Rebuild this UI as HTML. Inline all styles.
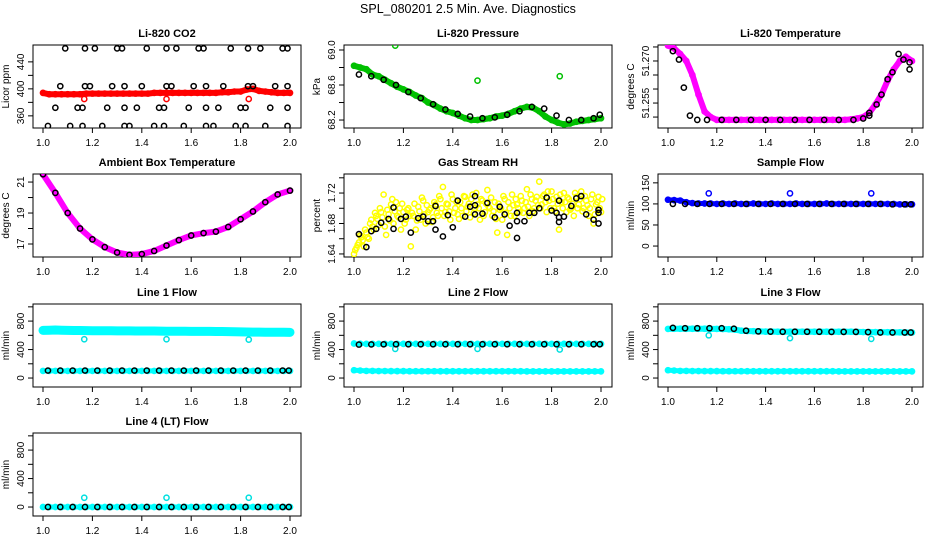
<!DOCTYPE html>
<html><head><meta charset="utf-8"><style>
html,body{margin:0;padding:0;background:#fff;}
svg{display:block;font-family:"Liberation Sans",Arial,sans-serif;}
</style></head><body>
<svg id="chart" width="936" height="540" viewBox="0 0 936 540">
<text x="468" y="13" text-anchor="middle" font-size="12.5">SPL_080201  2.5 Min. Ave. Diagnostics</text>
</svg>
<script>
// ---- shared time axes ----
const t41 = [1.0,1.025,1.05,1.075,1.1,1.125,1.15,1.175,1.2,1.225,1.25,1.275,1.3,1.325,1.35,1.375,1.4,1.425,1.45,1.475,1.5,1.525,1.55,1.575,1.6,1.625,1.65,1.675,1.7,1.725,1.75,1.775,1.8,1.825,1.85,1.875,1.9,1.925,1.95,1.975,2.0];
const t21 = [1.0,1.05,1.1,1.15,1.2,1.25,1.3,1.35,1.4,1.45,1.5,1.55,1.6,1.65,1.7,1.75,1.8,1.85,1.9,1.95,2.0];
const tBlack = [1.02,1.07,1.12,1.17,1.22,1.27,1.32,1.37,1.42,1.47,1.52,1.57,1.62,1.67,1.72,1.77,1.82,1.87,1.92,1.97,1.995];
const tOut = [1.167,1.5,1.833];
const xTicks = [1.0,1.2,1.4,1.6,1.8,2.0];
const xTickLabels = ["1.0","1.2","1.4","1.6","1.8","2.0"];

// ---- CO2 ----
const co2Red = [394,392,392,392,392,392,392,393,393,393,393,393,393,393,393,393,393,393,394,394,394,394,394,394,394,394,394,394,394,395,395,396,396,399,400,397,396,395,394,394,394];
const co2RedOut = [385,385,385];
const co2T460 = [1.09,1.17,1.21,1.30,1.32,1.42,1.50,1.54,1.63,1.65,1.76,1.83,1.88,1.97,1.99];
const co2T404 = [1.07,1.17,1.19,1.28,1.33,1.40,1.50,1.52,1.61,1.66,1.73,1.83,1.85,1.94,1.99];
const co2T372 = [1.05,1.14,1.16,1.26,1.33,1.38,1.47,1.49,1.59,1.66,1.71,1.80,1.82,1.92,1.99];
const co2T345 = [1.02,1.11,1.16,1.24,1.33,1.35,1.45,1.49,1.57,1.66,1.69,1.78,1.82,1.90,1.99];
const co2Levels = [460,404,372,345];

// ---- Pressure ----
const presGreen = [68.82,68.80,68.78,68.72,68.70,68.66,68.62,68.58,68.55,68.52,68.48,68.45,68.40,68.37,68.33,68.30,68.28,68.25,68.22,68.20,68.20,68.21,68.22,68.24,68.25,68.27,68.30,68.33,68.35,68.34,68.30,68.24,68.20,68.17,68.15,68.16,68.18,68.19,68.20,68.21,68.22];
const presGreenOut = [69.05,68.65,68.70];
const presBlack = [68.72,68.70,68.66,68.60,68.52,68.45,68.38,68.32,68.27,68.24,68.22,68.23,68.26,68.30,68.35,68.33,68.25,68.20,68.20,68.22,68.26];

// ---- Li-820 temperature ----
const tempMag = [51.2755,51.2745,51.2725,51.2700,51.2650,51.2580,51.2520,51.2500,51.2490,51.2490,51.2490,51.2490,51.2490,51.2490,51.2490,51.2490,51.2490,51.2490,51.2490,51.2490,51.2490,51.2490,51.2490,51.2490,51.2490,51.2490,51.2490,51.2490,51.2490,51.2490,51.2492,51.2495,51.2500,51.2515,51.2545,51.2580,51.2630,51.2670,51.2700,51.2715,51.2700];
const tempBlackT = [1.02,1.045,1.065,1.09,1.12,1.16,1.22,1.28,1.34,1.40,1.46,1.52,1.58,1.64,1.70,1.76,1.80,1.825,1.825,1.855,1.875,1.90,1.92,1.945,1.965,1.99,1.99];
const tempBlack = [51.2735,51.2705,51.2605,51.2505,51.2490,51.2490,51.2490,51.2490,51.2490,51.2490,51.2490,51.2490,51.2490,51.2490,51.2490,51.2490,51.2495,51.2515,51.2505,51.2545,51.2580,51.2635,51.2660,51.2725,51.2705,51.2695,51.2670];

// ---- Ambient box temperature ----
const ambient = [21.5,20.3,19.0,18.0,17.3,16.8,16.45,16.3,16.35,16.55,16.9,17.25,17.55,17.7,17.8,18.1,18.6,19.1,19.7,20.2,20.45];

// ---- Gas stream RH ----
const rhYT = [1.00,1.01,1.02,1.03,1.04,1.05,1.06,1.07,1.08,1.09,1.10,1.11,1.12,1.13,1.14,1.15,1.16,1.17,1.18,1.19,1.20,1.21,1.22,1.23,1.24,1.25,1.26,1.27,1.28,1.29,1.30,1.31,1.32,1.33,1.34,1.35,1.36,1.37,1.38,1.39,1.40,1.41,1.42,1.43,1.44,1.45,1.46,1.47,1.48,1.49,1.50,1.51,1.52,1.53,1.54,1.55,1.56,1.57,1.58,1.59,1.60,1.61,1.62,1.63,1.64,1.65,1.66,1.67,1.68,1.69,1.70,1.71,1.72,1.73,1.74,1.75,1.76,1.77,1.78,1.79,1.80,1.81,1.82,1.83,1.84,1.85,1.86,1.87,1.88,1.89,1.90,1.91,1.92,1.93,1.94,1.95,1.96,1.97,1.98,1.99,2.00];
const rhYellow = [1.640,1.648,1.655,1.662,1.650,1.668,1.660,1.685,1.672,1.690,1.678,1.695,1.718,1.665,1.692,1.705,1.680,1.708,1.688,1.672,1.695,1.685,1.700,1.650,1.690,1.672,1.702,1.685,1.710,1.680,1.695,1.700,1.688,1.705,1.690,1.712,1.728,1.695,1.705,1.685,1.712,1.700,1.692,1.708,1.690,1.715,1.702,1.688,1.718,1.700,1.705,1.685,1.710,1.695,1.724,1.700,1.690,1.708,1.668,1.698,1.685,1.712,1.665,1.700,1.718,1.690,1.705,1.695,1.710,1.700,1.725,1.690,1.712,1.700,1.715,1.735,1.705,1.718,1.695,1.710,1.722,1.700,1.715,1.672,1.708,1.720,1.695,1.712,1.700,1.690,1.715,1.705,1.722,1.700,1.710,1.690,1.712,1.680,1.705,1.715,1.695];
const rhYellow2 = [1.645,1.652,1.664,1.658,1.672,1.662,1.680,1.676,1.694,1.686,1.700,1.688,1.676,1.698,1.684,1.712,1.696,1.690,1.700,1.706,1.680,1.698,1.690,1.694,1.706,1.684,1.696,1.714,1.692,1.704,1.698,1.682,1.708,1.694,1.716,1.700,1.690,1.706,1.696,1.718,1.694,1.708,1.686,1.700,1.716,1.696,1.706,1.712,1.694,1.720,1.700,1.712,1.690,1.706,1.702,1.714,1.696,1.686,1.706,1.700,1.716,1.694,1.708,1.690,1.704,1.712,1.700,1.716,1.694,1.708,1.702,1.718,1.696,1.710,1.704,1.700,1.716,1.708,1.722,1.700,1.712,1.696,1.706,1.718,1.700,1.708,1.714,1.698,1.706,1.720,1.700,1.712,1.696,1.716,1.704,1.700,1.718,1.692,1.708,1.700,1.712];
const rhBlackT = [1.02,1.05,1.07,1.09,1.11,1.14,1.16,1.16,1.19,1.21,1.23,1.26,1.28,1.30,1.32,1.33,1.33,1.36,1.38,1.40,1.42,1.45,1.47,1.49,1.49,1.49,1.52,1.54,1.57,1.59,1.61,1.63,1.66,1.66,1.66,1.69,1.71,1.73,1.75,1.78,1.80,1.82,1.83,1.83,1.83,1.85,1.88,1.90,1.92,1.94,1.97,1.99,1.99,1.99];
const rhBlack = [1.666,1.649,1.670,1.673,1.681,1.686,1.701,1.673,1.686,1.689,1.668,1.687,1.689,1.683,1.683,1.672,1.703,1.663,1.691,1.675,1.710,1.689,1.702,1.692,1.704,1.716,1.693,1.707,1.688,1.702,1.692,1.677,1.683,1.661,1.694,1.683,1.694,1.694,1.700,1.714,1.697,1.694,1.688,1.710,1.682,1.689,1.703,1.713,1.716,1.692,1.685,1.698,1.680,1.694];

// ---- Sample flow ----
const flowBlue = [110,109,108,104,102,101,101,101,100,101,100,101,100,100,101,100,100,101,100,100,100,101,100,100,100,100,101,100,100,100,100,100,100,100,100,100,100,100,99,99,99];
const flowBlueOut = [125,125,125];
const flowBlack = [100,100,100,100,100,100,100,100,100,100,100,100,100,100,100,100,100,100,99,99,99];

// ---- Line flows ----
const l1Cyan = [670,672,675,672,670,668,668,666,665,665,664,664,663,662,662,661,660,660,660,659,658,658,657,657,656,656,655,655,654,653,652,650,648,646,645,645,644,644,643,643,642];
const l1CyanLow = [100,100,100,100,100,100,100,100,100,100,100,100,100,100,100,100,100,100,100,100,100,100,100,100,100,100,100,100,100,100,100,100,100,100,100,100,100,100,100,100,100];
const l1Out = [545,545,540];
const l1Black = [105,105,105,105,105,105,105,105,105,105,105,105,105,105,105,105,105,105,105,105,105];

const l2CyanLow = [110,105,100,100,98,98,97,97,97,96,96,96,96,96,95,95,95,95,95,95,95,95,95,95,95,95,95,95,94,94,94,94,94,94,94,94,94,94,94,94,94];
const l2CyanHigh = [485,482,480,480,480,480,480,480,480,480,480,480,480,480,480,480,480,480,480,480,480,480,480,480,480,480,480,480,480,480,480,480,480,480,480,480,480,480,480,480,480];
const l2Out = [410,410,400];
const l2Black = [470,472,474,475,475,475,475,475,475,475,475,475,475,475,475,475,475,475,475,475,475];

const l3CyanHigh = [690,692,692,692,692,692,692,690,690,688,685,680,665,660,658,655,652,652,650,650,650,650,650,650,650,650,650,650,650,650,650,648,646,645,645,644,643,642,642,640,640];
const l3CyanLow = [110,105,100,100,98,98,97,97,97,96,96,96,96,96,95,95,95,95,95,95,95,95,95,95,95,95,95,95,94,94,94,94,94,94,94,94,94,94,94,94,94];
const l3Out = [600,560,550];
const l3Black = [705,700,700,700,700,692,665,655,652,650,650,650,650,648,648,648,645,640,640,640,640];

const l4Cyan = [0,0,0,0,0,0,0,0,0,0,0,0,0,0,0,0,0,0,0,0,0,0,0,0,0,0,0,0,0,0,0,0,0,0,0,0,0,0,0,0,0];
const l4Out = [130,130,130];
const l4Black = [0,0,0,0,0,0,0,0,0,0,0,0,0,0,0,0,0,0,0,0,0];

// ---- tick arrays ----
const co2Ticks=[360,380,400,420,440], co2Labels=["360","","400","","440"];
const presTicks=[68.2,68.4,68.6,68.8,69.0], presLabels=["68.2","","68.6","","69.0"];
const tempTicks=[51.250,51.255,51.260,51.265,51.270,51.275], tempLabels=["","51.255","","","51.270",""];
const ambTicks=[17,18,19,20,21], ambLabels=["17","","19","","21"];
const rhTicks=[1.64,1.66,1.68,1.70,1.72,1.74], rhLabels=["1.64","","1.68","","1.72",""];
const sfTicks=[0,50,100,150], sfLabels=["0","50","100","150"];
const lfTicks=[0,200,400,600,800,1000], lfLabels=["0","","400","","800",""];

const NS="http://www.w3.org/2000/svg";
const svg=document.getElementById('chart');
function mk(tag,attrs,parent){const e=document.createElementNS(NS,tag);for(const k in attrs)e.setAttribute(k,attrs[k]);(parent||svg).appendChild(e);return e;}

const colL=[33,344,658], colR=[301,612,923];
const rowT=[45,174,304,433], PH=83;

function makePanel(col,row,title,ylab,ymin,ymax,ticks,labels,slug){
  const L=colL[col],R=colR[col],T=rowT[row],B=T+PH;
  const x0=L+10,x1=R-11;
  const g=mk('g',{});
  
  
  const sx=v=>x0+(v-1)*(x1-x0);
  const sy=v=>B-(v-ymin)/(ymax-ymin)*PH;
  const tt=mk('text',{x:(L+R)/2,y:T-8,'text-anchor':'middle','font-size':'11','font-weight':'bold'},g);
  tt.textContent=title;
  
  
  const box=mk('rect',{x:L,y:T,width:R-L,height:PH,fill:'none',stroke:'#000','stroke-width':1},g);
  
  
  const ya=mk('g',{},g);
  
  
  ticks.forEach((v,i)=>{
    const y=sy(v);
    mk('line',{x1:L-5,x2:L,y1:y,y2:y,stroke:'#000'},ya);
    if(labels[i]){const t=mk('text',{x:L-9,y:y,'font-size':'10','text-anchor':'middle',transform:`rotate(-90 ${L-9} ${y})`},ya);t.textContent=labels[i];}
  });
  const yl=mk('text',{x:L-24,y:(T+B)/2,'font-size':'10','text-anchor':'middle',transform:`rotate(-90 ${L-24} ${(T+B)/2})`},g);
  yl.textContent=ylab;
  
  
  const xa=mk('g',{},g);
  
  
  mk('line',{x1:sx(xTicks[0]),x2:sx(xTicks[xTicks.length-1]),y1:B,y2:B,stroke:'#000'},xa);
  xTicks.forEach((v,i)=>{
    const x=sx(v);
    mk('line',{x1:x,x2:x,y1:B,y2:B+5,stroke:'#000'},xa);
    const t=mk('text',{x:x,y:B+18,'font-size':'10','text-anchor':'middle'},xa);t.textContent=xTickLabels[i];
  });
  const clip='clip'+slug;
  const cp=mk('clipPath',{id:clip},g);mk('rect',{x:L,y:T,width:R-L,height:PH},cp);
  const marks=mk('g',{'clip-path':`url(#${clip})`},g);
  return {sx,sy,marks};
}
function pts(p,ts,vs,color,name,band){
  const g=mk('g',{},p.marks);
  
  
  if(band){
    mk('polyline',{points:ts.map((t,i)=>p.sx(t)+','+p.sy(vs[i])).join(' '),fill:'none',stroke:color,'stroke-width':band,'stroke-linejoin':'round','stroke-linecap':'round'},g);
  }
  ts.forEach((t,i)=>{mk('circle',{cx:p.sx(t),cy:p.sy(vs[i]),r:2.6,fill:'none',stroke:color,'stroke-width':1.5},g);});
}

// Panel 1 CO2
let p=makePanel(0,0,'Li-820 CO2','Licor ppm',342,465,co2Ticks,co2Labels,'co2');
pts(p,t41,co2Red,'#ff0000','co2-red-series',6);
pts(p,tOut,co2RedOut,'#ff0000','co2-red-outliers');
pts(p,co2T460,co2T460.map(()=>co2Levels[0]),'#000','co2-black-460');
pts(p,co2T404,co2T404.map(()=>co2Levels[1]),'#000','co2-black-404');
pts(p,co2T372,co2T372.map(()=>co2Levels[2]),'#000','co2-black-372');
pts(p,co2T345,co2T345.map(()=>co2Levels[3]),'#000','co2-black-345');

// Panel 2 Pressure
p=makePanel(1,0,'Li-820 Pressure','kPa',68.109,69.057,presTicks,presLabels,'pressure');
pts(p,t41,presGreen,'#00c000','pressure-green-series',6);
pts(p,tOut,presGreenOut,'#00c000','pressure-green-outliers');
pts(p,tBlack,presBlack,'#000','pressure-black-series');

// Panel 3 Temperature
p=makePanel(2,0,'Li-820 Temperature','degrees C',51.2461,51.2757,tempTicks,tempLabels,'li820-temp');
pts(p,t41,tempMag,'#ff00ff','li820-temp-magenta-series',6);
pts(p,tempBlackT,tempBlack,'#000','li820-temp-black-series');

// Panel 4 Ambient
p=makePanel(0,1,'Ambient Box Temperature','degrees C',16.16,21.52,ambTicks,ambLabels,'ambient-temp');
pts(p,t21,ambient,'#ff00ff','ambient-magenta-series',6);
pts(p,t21,ambient,'#000','ambient-black-series');

// Panel 5 RH
p=makePanel(1,1,'Gas Stream RH','percent',1.636,1.745,rhTicks,rhLabels,'rh');
pts(p,rhYT,rhYellow,'#ffff00','rh-yellow-series');
pts(p,rhYT.map(t=>t+0.005),rhYellow2,'#ffff00','rh-yellow-series-2');
pts(p,rhBlackT,rhBlack,'#000','rh-black-series');

// Panel 6 Sample flow
p=makePanel(2,1,'Sample Flow','ml/min',-26,171,sfTicks,sfLabels,'sample-flow');
pts(p,t41,flowBlue,'#0000ff','sample-flow-blue-series',5);
pts(p,tOut,flowBlueOut,'#0000ff','sample-flow-blue-outliers');
pts(p,tBlack,flowBlack,'#000','sample-flow-black-series');

// Line 1
p=makePanel(0,2,'Line 1 Flow','ml/min',-126,1040,lfTicks,lfLabels,'line1-flow');
pts(p,t41,l1Cyan,'#00ffff','line1-cyan-high',9);
pts(p,t41,l1CyanLow,'#00ffff','line1-cyan-low',5);
pts(p,tOut,l1Out,'#00e0e0','line1-cyan-outliers');
pts(p,tBlack,l1Black,'#000','line1-black-series');

// Line 2
p=makePanel(1,2,'Line 2 Flow','ml/min',-126,1040,lfTicks,lfLabels,'line2-flow');
pts(p,t41,l2CyanLow,'#00ffff','line2-cyan-low',5);
pts(p,t41,l2CyanHigh,'#00ffff','line2-cyan-high',4);
pts(p,tOut,l2Out,'#00e0e0','line2-cyan-outliers');
pts(p,tBlack,l2Black,'#000','line2-black-series');

// Line 3
p=makePanel(2,2,'Line 3 Flow','ml/min',-126,1040,lfTicks,lfLabels,'line3-flow');
pts(p,t41,l3CyanHigh,'#00ffff','line3-cyan-high',6);
pts(p,t41,l3CyanLow,'#00ffff','line3-cyan-low',5);
pts(p,tOut,l3Out,'#00e0e0','line3-cyan-outliers');
pts(p,tBlack,l3Black,'#000','line3-black-series');

// Line 4
p=makePanel(0,3,'Line 4 (LT) Flow','ml/min',-126,1040,lfTicks,lfLabels,'line4-flow');
pts(p,t41,l4Cyan,'#00ffff','line4-cyan-series',5);
pts(p,tOut,l4Out,'#00e0e0','line4-cyan-outliers');
pts(p,tBlack,l4Black,'#000','line4-black-series');
</script>
</body></html>
